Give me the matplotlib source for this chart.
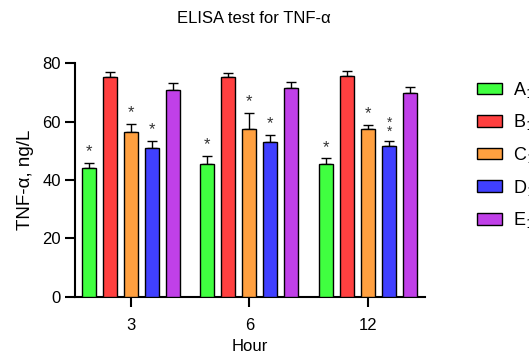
import numpy as np
import matplotlib
matplotlib.use("Agg")
import matplotlib.pyplot as plt
from matplotlib.patches import Patch

plt.rcParams["font.family"] = ["Liberation Sans", "DejaVu Sans"]

hours = ["3", "6", "12"]
groups = ["A", "B", "C", "D", "E"]
colors = ["#40FF40", "#FF4040", "#FFA040", "#4040FF", "#C040E8"]

# mean values per group, one entry per hour
means = {
    "A": [44.2, 45.6, 45.5],
    "B": [75.4, 75.2, 75.7],
    "C": [56.5, 57.6, 57.4],
    "D": [51.0, 53.0, 51.7],
    "E": [70.8, 71.4, 69.9],
}
errs = {
    "A": [1.7, 2.7, 1.9],
    "B": [1.7, 1.6, 1.8],
    "C": [2.7, 5.5, 1.6],
    "D": [2.5, 2.5, 1.7],
    "E": [2.5, 2.1, 2.1],
}
# significance marks per group (per hour)
stars = {
    "A": ["*", "*", "*"],
    "B": ["", "", ""],
    "C": ["*", "*", "*"],
    "D": ["*", "*", "**"],
    "E": ["", "", ""],
}

fig = plt.figure(figsize=(5.29, 3.54), dpi=100)
ax = fig.add_axes([0.1418, 0.1619, 0.6616, 0.6593])

x = np.arange(len(hours))
pitch = 0.177
width = 0.118
for i, g in enumerate(groups):
    pos = x + (i - 2) * pitch
    m = np.array(means[g])
    e = np.array(errs[g])
    ax.bar(pos, m, width, color=colors[i], edgecolor="black", linewidth=1.0,
           zorder=3)
    ax.errorbar(pos, m, yerr=[np.zeros_like(e), e], fmt="none", ecolor="black",
                elinewidth=1.0, capsize=3.5, capthick=1.0, zorder=2)
    for p, mv, ev, s in zip(pos, m, e, stars[g]):
        if not s:
            continue
        if s == "**":
            ax.text(p, mv + ev + 0.8, "*\n*", ha="center", va="bottom",
                    fontsize=10, color="#333333", linespacing=0.5)
        else:
            ax.text(p, mv + ev + 1.2, "*", ha="center", va="bottom",
                    fontsize=12, color="#333333")

ax.set_xlim(-0.47, 2.48)
ax.set_ylim(0, 80)
ax.set_yticks([0, 20, 40, 60, 80])
ax.set_xticks(x)
ax.set_xticklabels(hours)
ax.tick_params(axis="y", labelsize=12, width=1.5, length=7, pad=3)
ax.tick_params(axis="x", labelsize=12, width=1.5, length=7, pad=8)
for side in ["top", "right"]:
    ax.spines[side].set_visible(False)
for side in ["left", "bottom"]:
    ax.spines[side].set_linewidth(1.5)

ax.set_xlabel("Hour", fontsize=12, labelpad=5)
ax.set_ylabel("TNF-α, ng/L", fontsize=13.5, labelpad=6)
fig.text(0.48, 0.948, "ELISA test for TNF-α", ha="center", va="center",
         fontsize=12)

handles = [Patch(facecolor=c, edgecolor="black", linewidth=1.0) for c in colors]
labels = [f"{g}$_1$" for g in groups]
fig.legend(handles, labels, loc="upper left", bbox_to_anchor=(0.9017, 0.775),
           frameon=False, fontsize=13, handlelength=1.4, handleheight=0.6,
           labelspacing=0.7, handletextpad=0.6, borderpad=0,
           borderaxespad=0)

fig.savefig("out.png", dpi=100)
